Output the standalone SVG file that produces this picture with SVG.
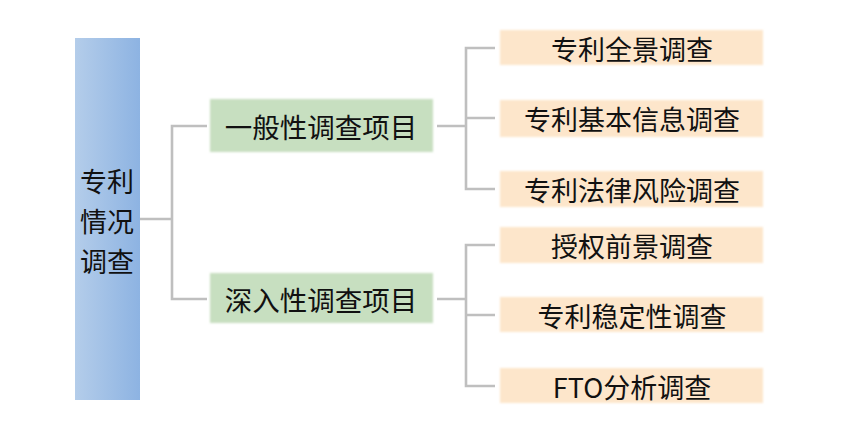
<svg xmlns="http://www.w3.org/2000/svg" width="849" height="426" viewBox="0 0 849 426">
<style>
text{font-family:"Noto Sans CJK SC","Noto Sans",sans-serif;fill:#111;text-anchor:middle;dominant-baseline:central}
.l1{font-size:27px}
.l2{font-size:27.5px}
.l3{font-size:27px}
.green{fill:#c7dfc0}
.orange{fill:#fde6cb}
.conn{fill:none;stroke:#bfbfbf;stroke-width:2.6}
</style>
<defs>
<linearGradient id="rootGrad" x1="0" y1="0" x2="1" y2="0">
<stop offset="0" stop-color="#b4cdea"/>
<stop offset="1" stop-color="#8db3e2"/>
</linearGradient>
<filter id="soft" x="-5%" y="-10%" width="110%" height="120%">
<feGaussianBlur stdDeviation="0.8"/>
</filter>
</defs>
<rect width="849" height="426" fill="#fff"/>
<g id="connectors">
<path class="conn" d="M140 219H172M207 126H172V299H207"/>
<path class="conn" d="M437 126H466M495 48H466V189H495M466 118H495"/>
<path class="conn" d="M437 299H466M495 245H466V386H495M466 315H495"/>
</g>
<g id="root">
<rect x="75" y="38" width="65" height="362" fill="url(#rootGrad)"/>
<text class="l1" x="107" y="180">专利</text>
<text class="l1" x="107" y="220">情况</text>
<text class="l1" x="107" y="260">调查</text>
</g>
<g id="general">
<rect class="green" x="210" y="99" width="223" height="53" filter="url(#soft)"/>
<text class="l2" x="321" y="126">一般性调查项目</text>
</g>
<g id="deep">
<rect class="green" x="210" y="273" width="223" height="50" filter="url(#soft)"/>
<text class="l2" x="321" y="299">深入性调查项目</text>
</g>
<g id="n1">
<rect class="orange" x="500" y="30" width="263" height="35" filter="url(#soft)"/>
<text class="l3" x="632" y="48">专利全景调查</text>
</g>
<g id="n2">
<rect class="orange" x="500" y="100" width="263" height="37" filter="url(#soft)"/>
<text class="l3" x="632" y="118">专利基本信息调查</text>
</g>
<g id="n3">
<rect class="orange" x="500" y="171" width="263" height="36" filter="url(#soft)"/>
<text class="l3" x="632" y="189">专利法律风险调查</text>
</g>
<g id="n4">
<rect class="orange" x="500" y="227" width="263" height="36" filter="url(#soft)"/>
<text class="l3" x="632" y="245">授权前景调查</text>
</g>
<g id="n5">
<rect class="orange" x="500" y="297" width="263" height="35" filter="url(#soft)"/>
<text class="l3" x="632" y="315">专利稳定性调查</text>
</g>
<g id="n6">
<rect class="orange" x="500" y="368" width="263" height="35" filter="url(#soft)"/>
<text class="l3" x="632" y="386">FTO分析调查</text>
</g>
</svg>
